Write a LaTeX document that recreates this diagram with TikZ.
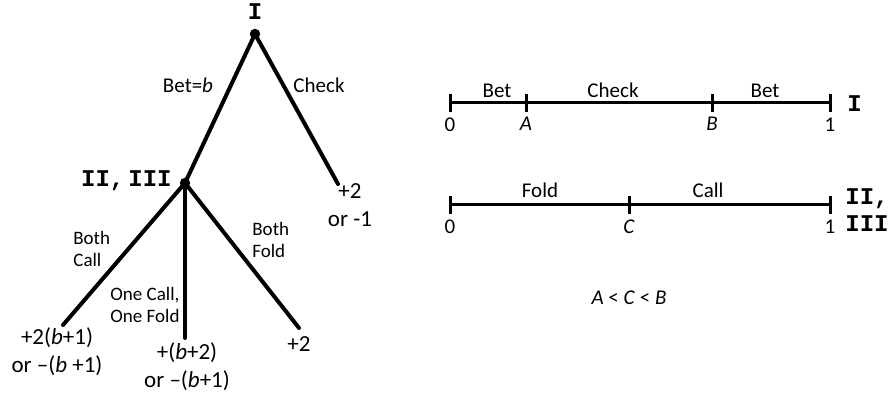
\documentclass[tikz,border=0pt]{standalone}
\usepackage{fontspec}
\setmainfont{Carlito}
\newfontfamily\playerfont{Liberation Mono}
\begin{document}
\begin{tikzpicture}[x=0.5pt, y=-0.5pt, font=\fontsize{10.5}{13}\selectfont,
    branch/.style={line width=2pt, line cap=round},
    numline/.style={line width=1.5pt},
    player/.style={font=\playerfont\bfseries\fontsize{12}{13.5}\selectfont, inner sep=0pt},
    choice/.style={font=\fontsize{9.5}{11}\selectfont, align=left, inner sep=0pt, anchor=base west},
    payoff/.style={font=\fontsize{11.5}{14}\selectfont, align=center, inner sep=0pt, anchor=base},
    tag/.style={inner sep=0pt, anchor=base}]
        \useasboundingbox (0,0) rectangle (893,399);
        % game tree
        \coordinate (root) at (255,34);
        \coordinate (split) at (185,183);
        \coordinate (endChk) at (338,184);
        \coordinate (endBC) at (63,325);
        \coordinate (endOne) at (185,338);
        \coordinate (endBF) at (299,328);
        \draw[branch] (root) -- (split);
        \draw[branch] (root) -- (endChk);
        \draw[branch] (split) -- (endBC);
        \draw[branch] (split) -- (endOne);
        \draw[branch] (split) -- (endBF);
        \fill (root) circle (2.6pt);
        \fill (split) circle (2.6pt);
        \node[player, anchor=base] (plI) at (255,20) {I};
        \node[player, anchor=base east] (plII) at (172,187) {II,\,III};
        \node[tag] (lBet) at (188,93) {Bet=\textit{b}};
        \node[tag] (lChk) at (319,93) {Check};
        % multi-line nodes: base is the last line
        \node[choice] (lBC) at (73,267) {Both\\Call};
        \node[choice] (lBF) at (252,258) {Both\\Fold};
        \node[choice] (lOne) at (110,323) {One Call,\\One Fold};
        \node[payoff] (pChk) at (350,227) {+2\\or -1};
        \node[payoff] (pBC) at (57,373) {+2(\textit{b}+1)\\or --(\textit{b} +1)};
        \node[payoff] (pOne) at (187,388) {+(\textit{b}+2)\\or --(\textit{b}+1)};
        \node[payoff] (pBF) at (299,352) {+2};
        % strategy lines
        \coordinate (zeroI) at (450,103);
        \coordinate (tA) at (526,103);
        \coordinate (tB) at (712,103);
        \coordinate (oneI) at (830,103);
        \draw[numline] (zeroI) -- (oneI);
        \foreach \t/\l in {zeroI/0, tA/\textit{A}, tB/\textit{B}, oneI/1}
          \draw[numline] (\t) ++(0,-9) -- ++(0,18) node[tag, anchor=north, yshift=-2pt] (n-\t) {\l};
        \node[tag] (sBet1) at (497,98) {Bet};
        \node[tag] (sChk) at (613,98) {Check};
        \node[tag] (sBet2) at (765,98) {Bet};
        \node[player, anchor=base west] (rowI) at (847,112) {I};
        \coordinate (zeroII) at (450,205);
        \coordinate (tC) at (629,205);
        \coordinate (oneII) at (830,205);
        \draw[numline] (zeroII) -- (oneII);
        \foreach \t/\l in {zeroII/0, tC/\textit{C}, oneII/1}
          \draw[numline] (\t) ++(0,-9) -- ++(0,18) node[tag, anchor=north, yshift=-2pt] (n-\t) {\l};
        \node[tag] (sFold) at (540,198) {Fold};
        \node[tag] (sCall) at (708,198) {Call};
        \node[player, anchor=base west, align=left, font=\playerfont\bfseries\fontsize{12}{13.5}\selectfont] (rowII) at (845,232) {II,\\III};
        \node[tag] (order) at (629,305) {\textit{A} < \textit{C} < \textit{B}};
\end{tikzpicture}
\end{document}
